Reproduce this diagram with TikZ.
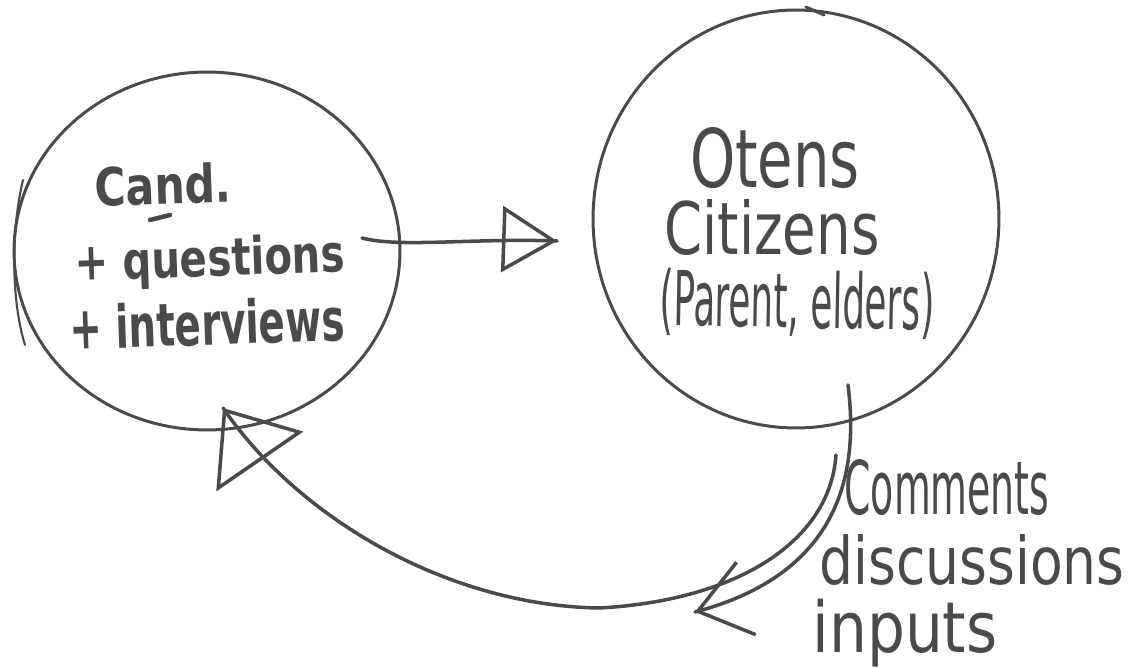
\documentclass[tikz,border=0pt]{standalone}
\usepackage{fontspec}
\usepackage{graphicx}
\usetikzlibrary{arrows.meta,decorations.markings,shapes.geometric}
\newfontfamily\handfont{DejaVu Sans}
\definecolor{ink}{HTML}{4A4A4A}
% hand-lettered words: width, height above baseline, text
\newcommand{\scrawl}[3]{\resizebox{#1}{#2}{\handfont #3}}
% same, but the height is the total height (with descenders)
\newcommand{\scrawlt}[3]{\resizebox*{#1}{#2}{\handfont #3}}

\begin{document}
\begin{tikzpicture}[x=0.02cm,y=-0.02cm,
  pen/.style={draw=ink,line width=1.7pt,line cap=round,line join=round},
  bubble/.style={ellipse,pen,inner sep=0pt},
  word/.style={text=ink,inner sep=0pt,anchor=center},
  flow/.style={pen,line width=2pt},
  tipat/.style={postaction={decorate},
    decoration={markings,mark=at position 1 with {\arrow[ink,line width=2pt]{#1}}}}]

\fill[white] (0,0) rectangle (1136,668);
\useasboundingbox (0,0) rectangle (1136,668);

% the two groups
\node[bubble,minimum width=7.72cm,minimum height=7.16cm] (cand) at (207,251) {};
\node[bubble,minimum width=8.12cm,minimum height=8.36cm] (cit) at (796,219) {};
% extra pen strokes on the outlines
\draw[pen,line width=1.2pt] (23,180) .. controls (11,230) and (11,300) .. (25,345);
\draw[pen] (806,7) -- (824,15);

% left group text
\node[word,rotate=2] (w1) at (163,185) {\scrawl{2.74cm}{0.8cm}{\bfseries Cand.}};
\draw[pen,line width=2.6pt] (150,220) -- (170,215);
\node[word,rotate=2] (w2) at (210,262) {\scrawlt{5.4cm}{1.0cm}{\bfseries + questions}};
\node[word,rotate=2] (w3) at (207,323) {\scrawl{5.5cm}{0.9cm}{\bfseries + interviews}};

% right group text
\node[word] (w4) at (775,158) {\scrawl{3.4cm}{1.2cm}{Otens}};
\node[word] (w5) at (772,228) {\scrawl{4.3cm}{1.1cm}{Citizens}};
\node[word,rotate=-1] (w6) at (797,304) {\scrawlt{5.5cm}{1.35cm}{(Parent, elders)}};

% feedback text
\node[word] (w7) at (947,488) {\scrawl{4.1cm}{1.1cm}{Comments}};
\node[word] (w8) at (972,560) {\scrawl{6.1cm}{1.0cm}{discussions}};
\node[word] (w9) at (905,633) {\scrawlt{3.7cm}{1.36cm}{inputs}};

% connectors
\coordinate (a0) at (362,238);
\coordinate (a1) at (557,241);
\draw[flow,tipat={Triangle[open,length=1.1cm,width=1.32cm]}]
  (a0) .. controls (400,248) and (470,238) .. (a1);

\coordinate (b0) at (848,385);
\coordinate (b1) at (695,612);
\draw[flow,tipat={Straight Barb[length=1.0cm,width=1.5cm]}]
  (b0) .. controls (860,480) and (835,575) .. (b1);

\coordinate (c0) at (836,455);
\coordinate (c1) at (600,608);
\coordinate (c2) at (223,408);
\draw[flow,tipat={Triangle[open,length=1.3cm,width=2.1cm]}]
  (c0) .. controls (830,540) and (740,600) .. (c1)
       .. controls (450,606) and (300,520) .. (c2);
\end{tikzpicture}
\end{document}
